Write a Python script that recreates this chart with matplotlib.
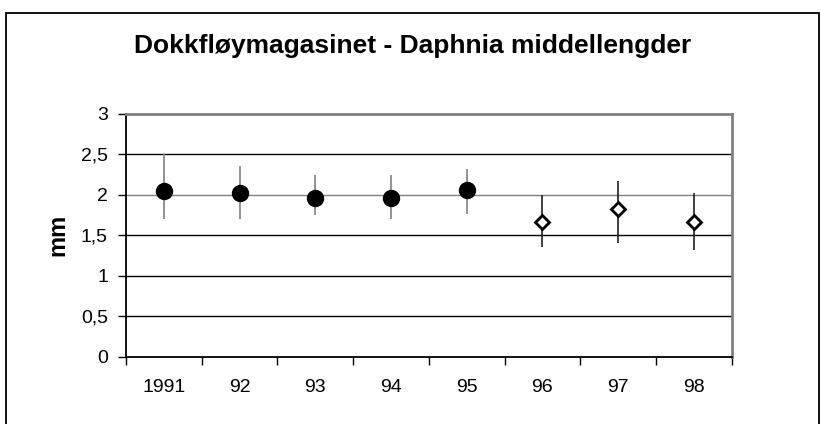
import matplotlib
matplotlib.use("Agg")
import matplotlib.pyplot as plt
from matplotlib.patches import Rectangle
import numpy as np

plt.rcParams['font.family'] = ['Liberation Sans', 'DejaVu Sans']

years = ["1991", "92", "93", "94", "95", "96", "97", "98"]
mean_a = [2.05, 2.02, 1.96, 1.96, 2.06, None, None, None]
upper_a = [2.51, 2.36, 2.245, 2.245, 2.32, None, None, None]
lower_a = [1.70, 1.70, 1.745, 1.70, 1.76, None, None, None]
mean_b = [None, None, None, None, None, 1.66, 1.83, 1.66]
upper_b = [None, None, None, None, None, 2.00, 2.17, 2.02]
lower_b = [None, None, None, None, None, 1.35, 1.40, 1.32]
yticks = [0, 0.5, 1, 1.5, 2, 2.5, 3]
ytick_labels = ["0", "0,5", "1", "1,5", "2", "2,5", "3"]

W, H = 821, 424
fig = plt.figure(figsize=(W / 100, H / 100), dpi=100)
ax = fig.add_axes([126 / W, 1 - 356.5 / H, (731.7 - 126) / W, (356.5 - 114) / H])

x = np.arange(len(years))

def sel(vals):
    idx = [i for i, v in enumerate(vals) if v is not None]
    return idx, [vals[i] for i in idx]

# gridlines
for yv in yticks[1:-1]:
    ax.axhline(yv, color='#808080' if yv == 2 else 'black', lw=1, zorder=1)

# series A
ia, ma = sel(mean_a)
_, ua = sel(upper_a)
_, la = sel(lower_a)
ax.vlines(ia, la, ua, color='#808080', lw=1.2, zorder=2)
ax.plot(ia, ma, 'o', ms=11.5, color='black', zorder=3, ls='none')

# series B
ib, mb = sel(mean_b)
_, ub = sel(upper_b)
_, lb = sel(lower_b)
ax.vlines(ib, lb, ub, color='#202020', lw=1.2, zorder=2)
ax.plot(ib, mb, 'D', ms=7.5, mfc='white', mec='black', mew=2, zorder=3, ls='none')

ax.set_xlim(-0.5, len(years) - 0.5)
ax.set_ylim(0, 3)
ax.set_yticks(yticks)
ax.set_yticklabels(ytick_labels, fontsize=14)
ax.set_xticks(np.arange(-0.5, len(years), 1.0))
ax.set_xticklabels([])
ax.set_xticks(x, minor=True)
ax.set_xticklabels(years, minor=True, fontsize=14)
ax.tick_params(axis='x', which='major', direction='out', length=6, width=1, color='black')
ax.tick_params(axis='x', which='minor', length=0, pad=16)
ax.tick_params(axis='y', direction='out', length=6, width=1, pad=7)

for s in ['left', 'bottom']:
    ax.spines[s].set_color('black')
    ax.spines[s].set_linewidth(1.3)
for s in ['top', 'right']:
    ax.spines[s].set_color('#808080')
    ax.spines[s].set_linewidth(2)

ax.set_ylabel("mm", fontsize=17, fontweight='bold', va='center')
ax.yaxis.set_label_coords((58 - 126) / (731.7 - 126), 0.5)

fig.text(413 / W, 1 - 53 / H, "Dokkfløymagasinet - Daphnia middellengder",
         ha='center', va='baseline', fontsize=19, fontweight='bold')

fig.patches.append(Rectangle((6 / W, -0.05), (819 - 6) / W, 1.05 - 12.5 / H,
                             transform=fig.transFigure, fill=False,
                             edgecolor='black', lw=1.3, zorder=10))

fig.savefig("out.png", dpi=100)
